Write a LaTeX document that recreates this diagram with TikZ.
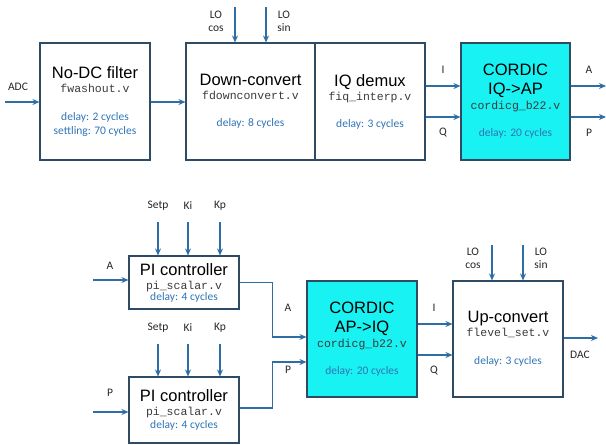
\documentclass[tikz,border=0pt]{standalone}
\usepackage{fontspec}
\setmainfont{Carlito}
\setmonofont{Liberation Mono}
\newfontfamily\blkfont{Liberation Sans}
\usetikzlibrary{arrows.meta}

\definecolor{boxcol}{HTML}{2F4B63}
\definecolor{sigcol}{HTML}{2F6EA5}
\definecolor{dlycol}{HTML}{2E74B5}
\definecolor{filecol}{HTML}{3A3A3A}
\definecolor{cordcol}{RGB}{24,242,242}

\newcommand\blktitle[1]{{\blkfont\fontsize{16.5}{19}\selectfont #1}}
\newcommand\blkfile[1]{{\ttfamily\fontsize{11.5}{14}\selectfont\color{filecol}#1}}
\newcommand\blkdelay[1]{{\color{dlycol}#1}}

\begin{document}
\begin{tikzpicture}[x=1pt, y=-1pt,
    blk/.style={draw=boxcol, line width=1.1pt, align=center, inner sep=0pt,
      font=\fontsize{11.5}{14}\selectfont},
    sig/.style={draw=sigcol, line width=1.1pt, -{Stealth[length=7pt,width=6pt]}},
    lbl/.style={font=\fontsize{11.5}{13}\selectfont, text=black!85, inner sep=0pt, align=center}]
  \useasboundingbox (0,0) rectangle (606,445);

  % Ricezione (riga superiore)
  \node (nodc) at (95,101.5) [blk, minimum width=110pt, minimum height=117pt]
    {\blktitle{No-DC filter}\\ \blkfile{fwashout.v}\\[14pt]
     \blkdelay{delay: 2 cycles}\\ \blkdelay{settling: 70 cycles}};
  \node (down) at (250.5,101.5) [blk, minimum width=129pt, minimum height=117pt]
    {\blktitle{Down-convert}\\ \blkfile{fdownconvert.v}\\[13pt]
     \blkdelay{delay: 8 cycles}};
  \node (demux) at (370,101.5) [blk, minimum width=110pt, minimum height=117pt]
    {\blktitle{IQ demux}\\ \blkfile{fiq\_interp.v}\\[13pt]
     \blkdelay{delay: 3 cycles}};
  \node (cordA) at (515.5,101.5) [blk, fill=cordcol, minimum width=109pt, minimum height=117pt]
    {\blktitle{CORDIC}\\[5pt] \blktitle{IQ->AP}\\[1pt] \blkfile{cordicg\_b22.v}\\[13pt]
     \blkdelay{delay: 20 cycles}};

  % Ingressi e uscite
  \coordinate (adc) at (5,102);
  \coordinate (locosA) at (235,7);
  \coordinate (losinA) at (266,7);
  \coordinate (aout) at (606,86);
  \coordinate (pout) at (606,117);
  \node (adclbl) at (18,87) [lbl] {ADC};
  \node (locosAlbl) at (216,21) [lbl] {LO\\cos};
  \node (losinAlbl) at (284,21) [lbl] {LO\\sin};
  \node (ilblA) at (443,70) [lbl] {I};
  \node (qlblA) at (443,133) [lbl] {Q};
  \node (albl) at (589,70) [lbl] {A};
  \node (plbl) at (589,133) [lbl] {P};

  % Collegamenti
  \draw[sig] (adc) -- (nodc.west |- adc);
  \draw[sig] (nodc.east |- adc) -- (down.west |- adc);
  \draw[sig] (locosA) -- (locosA |- down.north);
  \draw[sig] (losinA) -- (losinA |- down.north);
  \draw[sig] ([yshift=15.5pt]demux.east) -- ([yshift=15.5pt]cordA.west);
  \draw[sig] ([yshift=-15.5pt]demux.east) -- ([yshift=-15.5pt]cordA.west);
  \draw[sig] (cordA.east |- aout) -- (aout);
  \draw[sig] (cordA.east |- pout) -- (pout);

  % Controllo e trasmissione (riga inferiore)
  \node (piA) at (184,282.5) [blk, minimum width=110pt, minimum height=53pt]
    {\blktitle{PI controller}\\ \blkfile{pi\_scalar.v}\\[-3pt]
     \blkdelay{delay: 4 cycles}};
  \node (piP) at (184,410) [blk, minimum width=110pt, minimum height=66pt]
    {\blktitle{PI controller}\\ \blkfile{pi\_scalar.v}\\[-1pt]
     \blkdelay{delay: 4 cycles}};
  \node (cordB) at (362,339) [blk, fill=cordcol, minimum width=110pt, minimum height=116pt]
    {\blktitle{CORDIC}\\[5pt] \blktitle{AP->IQ}\\[1pt] \blkfile{cordicg\_b22.v}\\[13pt]
     \blkdelay{delay: 20 cycles}};
  \node (up) at (508,339) [blk, minimum width=110pt, minimum height=116pt]
    {\blktitle{Up-convert}\\ \blkfile{flevel\_set.v}\\[14pt]
     \blkdelay{delay: 3 cycles}};

  % Ingressi e uscite
  \coordinate (ain) at (93,280);
  \coordinate (pin) at (93,412);
  \coordinate (setpA) at (158,222);
  \coordinate (kiA) at (188,222);
  \coordinate (kpA) at (220,222);
  \coordinate (setpP) at (158,344);
  \coordinate (kiP) at (188,344);
  \coordinate (kpP) at (220,344);
  \coordinate (locosB) at (492,245);
  \coordinate (losinB) at (523,245);
  \coordinate (dac) at (598,338);
  \node (ainlbl) at (110,266) [lbl] {A};
  \node (pinlbl) at (110,393) [lbl] {P};
  \node (setpAlbl) at (158,206) [lbl] {Setp};
  \node (kiAlbl) at (188,206) [lbl] {Ki};
  \node (kpAlbl) at (220,206) [lbl] {Kp};
  \node (setpPlbl) at (158,328) [lbl] {Setp};
  \node (kiPlbl) at (188,328) [lbl] {Ki};
  \node (kpPlbl) at (220,328) [lbl] {Kp};
  \node (amidlbl) at (288,308) [lbl] {A};
  \node (pmidlbl) at (288,370) [lbl] {P};
  \node (ilblB) at (434,308) [lbl] {I};
  \node (qlblB) at (434,371) [lbl] {Q};
  \node (locosBlbl) at (473,258) [lbl] {LO\\cos};
  \node (losinBlbl) at (541,258) [lbl] {LO\\sin};
  \node (daclbl) at (580,355) [lbl] {DAC};

  % Collegamenti
  \draw[sig] (ain) -- (piA.west |- ain);
  \draw[sig] (pin) -- (piP.west |- pin);
  \draw[sig] (setpA) -- (setpA |- piA.north);
  \draw[sig] (kiA) -- (kiA |- piA.north);
  \draw[sig] (kpA) -- (kpA |- piA.north);
  \draw[sig] (setpP) -- (setpP |- piP.north);
  \draw[sig] (kiP) -- (kiP |- piP.north);
  \draw[sig] (kpP) -- (kpP |- piP.north);
  \draw[sig] (piA.east) -- ++(33,0) |- ([yshift=2pt]cordB.west);
  \draw[sig] ([yshift=2pt]piP.east) -- ++(33,0) |- ([yshift=-23pt]cordB.west);
  \draw[sig] ([yshift=15pt]cordB.east) -- ([yshift=15pt]up.west);
  \draw[sig] ([yshift=-16pt]cordB.east) -- ([yshift=-16pt]up.west);
  \draw[sig] (locosB) -- (locosB |- up.north);
  \draw[sig] (losinB) -- (losinB |- up.north);
  \draw[sig] (up.east |- dac) -- (dac);
\end{tikzpicture}
\end{document}
